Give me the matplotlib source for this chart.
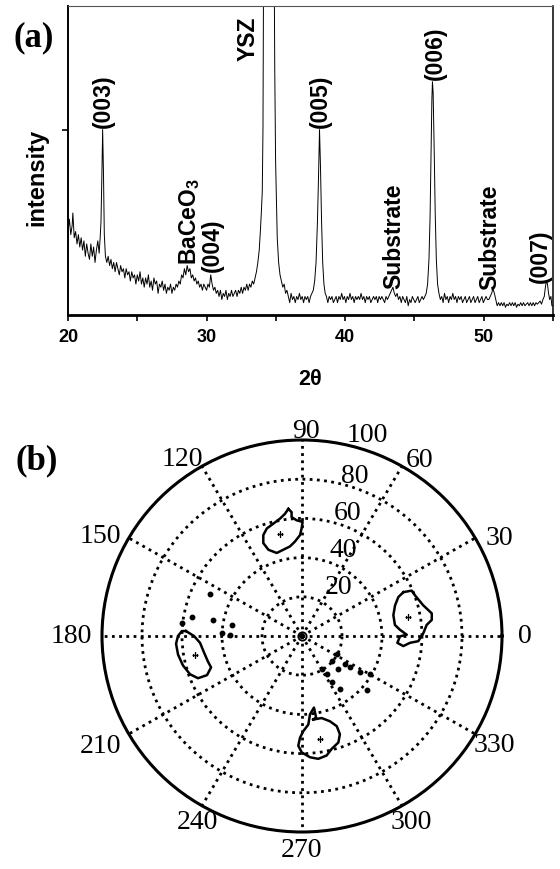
import numpy as np
import matplotlib
matplotlib.use("Agg")
import matplotlib.pyplot as plt

plt.rcParams['mathtext.fontset'] = 'custom'
plt.rcParams['mathtext.bf'] = 'Liberation Sans:bold'
plt.rcParams['mathtext.rm'] = 'Liberation Sans:bold'
plt.rcParams['mathtext.default'] = 'bf'

# ---------------- (a) XRD pattern data ----------------
two_theta = [
    20.0, 20.1, 20.2, 20.3, 20.35, 20.45, 20.55, 20.65, 20.75, 20.85, 20.95, 21.05, 21.15, 21.25,
    21.35, 21.45, 21.55, 21.65, 21.75, 21.85, 21.95, 22.05, 22.15, 22.25, 22.32,
    22.38, 22.44, 22.5, 22.56, 22.62, 22.7,
    22.8, 22.9, 23.0, 23.1, 23.2, 23.3, 23.4, 23.5, 23.6, 23.7, 23.8, 23.9, 24.0, 24.1, 24.2,
    24.3, 24.4, 24.5, 24.6, 24.7, 24.8, 24.9, 25.0, 25.1, 25.2, 25.3, 25.4, 25.5, 25.6, 25.7,
    25.8, 25.9, 26.0, 26.1, 26.2, 26.3, 26.4, 26.5, 26.6, 26.7, 26.8, 26.9, 27.0, 27.1, 27.2,
    27.3, 27.4, 27.5, 27.6, 27.7, 27.8, 27.9, 28.0, 28.1, 28.2, 28.3, 28.4, 28.5, 28.6, 28.7,
    28.8, 28.9, 29.0, 29.1, 29.2, 29.3, 29.4, 29.5, 29.6, 29.7, 29.8, 29.9, 30.0, 30.1, 30.2,
    30.3, 30.4, 30.5, 30.6, 30.7, 30.8, 30.9, 31.0, 31.1, 31.2, 31.3, 31.4, 31.5, 31.6, 31.7,
    31.8, 31.9, 32.0, 32.1, 32.2, 32.3, 32.4, 32.5, 32.6, 32.7, 32.8, 32.9, 33.0, 33.1, 33.2,
    33.3, 33.4,
    33.5, 33.6, 33.7, 33.8, 33.88, 33.95, 34.02, 34.07, 34.12, 34.2, 34.35, 34.5, 34.65, 34.78,
    34.86, 34.92, 34.98, 35.04, 35.1, 35.2, 35.3, 35.4, 35.5, 35.6, 35.7, 35.8, 35.9, 36.0,
    36.1, 36.2, 36.3, 36.4, 36.5, 36.6, 36.7, 36.8, 36.9, 37.0, 37.1, 37.2, 37.3, 37.4, 37.5,
    37.6, 37.7, 37.8, 37.9, 38.0, 38.08, 38.15, 38.22, 38.3, 38.38, 38.47, 38.56,
    38.65, 38.75, 38.85, 38.95, 39.05, 39.15, 39.25, 39.35, 39.45, 39.55, 39.65, 39.75, 39.85,
    39.95, 40.05, 40.15, 40.25, 40.35, 40.45, 40.55, 40.65, 40.75, 40.85, 40.95, 41.05, 41.15,
    41.25, 41.35, 41.45, 41.55, 41.65, 41.75, 41.85, 41.95, 42.05, 42.15, 42.25, 42.35, 42.45,
    42.55, 42.65, 42.75, 42.85, 42.95, 43.05, 43.15, 43.25, 43.35, 43.45, 43.55, 43.65, 43.75,
    43.85, 43.95, 44.05, 44.15, 44.25, 44.35, 44.45, 44.55, 44.65, 44.75, 44.85, 44.95, 45.05,
    45.15, 45.25, 45.35, 45.45, 45.55, 45.65, 45.75, 45.85,
    45.95, 46.05, 46.13, 46.2, 46.26, 46.3, 46.35, 46.42, 46.5, 46.58, 46.67, 46.77, 46.87,
    46.97, 47.07, 47.17, 47.27, 47.37, 47.47, 47.57, 47.67, 47.77, 47.87, 47.97, 48.07, 48.17,
    48.27, 48.37, 48.47, 48.57, 48.67, 48.77, 48.87, 48.97, 49.07, 49.17, 49.27, 49.37, 49.47,
    49.57, 49.67, 49.77, 49.87, 49.97, 50.07, 50.17, 50.27, 50.37, 50.47, 50.57, 50.67, 50.77,
    50.87, 50.97, 51.07, 51.17, 51.27, 51.37, 51.47, 51.57, 51.67, 51.77, 51.87, 51.97, 52.07,
    52.17, 52.27, 52.37, 52.47, 52.57, 52.67, 52.77, 52.87, 52.97, 53.07, 53.17, 53.27, 53.37,
    53.47, 53.57, 53.67, 53.77, 53.87, 53.97, 54.07, 54.17, 54.27, 54.37, 54.45, 54.52, 54.6,
    54.68, 54.76, 54.85, 54.92, 55.0,
]
intensity = [
    27, 31, 26, 29, 33, 25, 27, 23, 26, 22, 25, 21, 24, 19,
    23, 20, 18, 23, 19, 22, 17, 21, 24, 20, 25,
    30, 44, 60, 46, 26, 19,
    17, 19, 16, 18, 15, 17, 14, 17, 15, 13, 16, 14, 15, 12, 15,
    13, 14, 11, 14, 12, 13, 10, 13, 11, 14, 10, 12, 9, 12, 10,
    13, 9, 11, 8, 12, 10, 11, 7, 10, 9, 11, 8, 10, 7, 9,
    8, 10, 7, 9, 8, 10, 9, 11, 10, 13, 12, 15, 13, 16, 14,
    15, 12, 13, 11, 12, 10, 11, 9, 10, 8, 10, 9, 8, 10, 9,
    13, 10, 8, 9, 7, 8, 6, 8, 5, 7, 6, 8, 5, 7, 6,
    8, 6, 7, 8, 6, 8, 7, 9, 7, 9, 8, 10, 8, 10, 9,
    11, 10,
    12, 14, 17, 21, 27, 33, 40, 60, 120, 220, 300, 320, 300, 220,
    130, 80, 50, 38, 25, 17, 13, 11, 9, 10, 7, 8, 6, 4,
    7, 5, 6, 4, 6, 5, 7, 5, 6, 4, 6, 5, 6, 4, 6,
    7, 8, 11, 17, 30, 45, 60, 48, 30, 17, 10, 7,
    6, 4, 6, 5, 6, 4, 5, 6, 4, 6, 5, 7, 5,
    6, 4, 6, 5, 7, 5, 6, 4, 6, 5, 6, 5, 7,
    5, 6, 4, 6, 5, 6, 4, 5, 6, 5, 6, 4, 6,
    5, 6, 5, 4, 6, 5, 6, 7, 8, 9, 7, 6, 7,
    5, 6, 4, 6, 5, 4, 6, 3, 5, 4, 6, 5, 4,
    5, 6, 4, 5, 6, 5, 6, 7,
    10, 18, 32, 52, 70, 75.5, 72, 55, 33, 18, 10, 7, 5,
    6, 4, 7, 5, 6, 4, 6, 5, 7, 5, 6, 4, 6,
    5, 6, 4, 5, 6, 4, 5, 6, 4, 5, 6, 4, 5,
    6, 4, 5, 6, 4, 5, 6, 5, 5, 6, 7, 8.5, 7,
    5, 3, 4, 3, 4, 3, 4, 2.5, 3.5, 3, 4, 3, 4,
    3, 4, 2.5, 3.5, 3, 4, 3, 4, 3, 3.5, 4, 3, 4,
    3, 4, 3, 4, 3.5, 4, 4.5, 3.5, 5, 6, 9, 11, 10,
    7, 5, 6, 3, 3,
]

peak_labels = ['(003)', 'YSZ', r'BaCeO$_3$', '(004)', '(005)', 'Substrate', '(006)', 'Substrate', '(007)']
peak_label_x = [22.53, 32.99, 28.75, 30.4, 38.19, 43.53, 46.48, 50.45, 54.06]
peak_label_y = [61, 82.5, 16.5, 14.2, 61, 8.7, 76.5, 8.4, 10.7]

x_ticks = [20, 30, 40, 50]
x_minor = [25, 35, 45, 55]

# ---------------- (b) pole figure data ----------------
ring_values = [20, 40, 60, 80]
spoke_angles = list(range(0, 360, 30))
angle_labels = ['0', '30', '60', '90', '120', '150', '180', '210', '240', '270', '300', '330']
radial_labels = ['20', '40', '60', '80', '100']

# pole outlines: (angle in degrees, radius)
pole_r_theta = [23.8, 22.9, 20.1, 14.5, 10.1, 7.2, 5.2, 1.4, -2.6, -3.7, -5.8, -4.2, -0.2, 0.7, 3.7, 6.9, 13.1, 18.6, 22.4]
pole_r_rad = [55.4, 59.5, 60.2, 62.6, 65.9, 65.4, 62.6, 60.7, 58.2, 54.1, 50.9, 47.8, 49.0, 52.4, 49.1, 46.8, 46.9, 49.1, 52.1]

pole_t_theta = [96.0, 94.7, 94.9, 92.6, 89.7, 90.2, 91.1, 94.2, 97.5, 102.0, 106.6, 110.9, 112.2, 110.6, 107.8, 104.0, 100.4, 97.8]
pole_t_rad = [65.2, 63.4, 60.9, 59.1, 58.2, 54.9, 51.5, 48.3, 46.1, 45.0, 44.2, 47.1, 51.2, 55.0, 57.6, 59.1, 60.9, 62.9]

pole_l_theta = [177.5, 180.0, 183.9, 189.8, 195.5, 199.4, 202.8, 202.5, 199.2, 194.1, 188.7, 183.6, 180.0, 177.6]
pole_l_rad = [58.1, 54.0, 51.1, 49.7, 48.8, 48.2, 51.5, 56.3, 59.3, 61.4, 62.7, 63.1, 62.0, 60.1]

pole_b_theta = [277.5, 283.2, 287.8, 290.7, 290.7, 288.5, 284.4, 281.4, 277.4, 273.7, 269.9, 268.1, 268.9, 270.8, 274.0, 275.7, 279.3, 279.6]
pole_b_rad = [43.0, 43.0, 45.7, 49.2, 53.6, 57.3, 59.5, 62.2, 63.2, 62.0, 59.4, 56.0, 51.9, 48.5, 45.3, 40.2, 37.0, 42.1]

pole_centre_theta = [10.2, 190.1, 279.7, 102.0]
pole_centre_rad = [53.8, 54.3, 53.3, 53.0]

spot_theta = [331.7, 326.3, 317.1, 326.3, 319.6, 300.3, 302.5, 302.3, 305.3, 319.5, 327.5, 330.4,
              169.9, 169.6, 170.9, 177.9, 173.8, 155.0, 179.0]
spot_rad = [19.7, 25.9, 24.8, 28.8, 19.5, 19.5, 23.0, 27.8, 32.9, 42.6, 34.4, 39.1,
            56.0, 45.1, 35.6, 40.2, 60.5, 50.8, 36.0]

# ---------------- figure ----------------
W, H = 560, 870
fig = plt.figure(figsize=(W / 100, H / 100), dpi=100)

SANS = 'Liberation Sans'
SERIF = 'Liberation Serif'

ax = fig.add_axes([68 / W, 1 - 316 / H, 485 / W, 309 / H])
ax.plot(two_theta, intensity, color='black', lw=0.7)
ax.set_xlim(20, 55)
ax.set_ylim(0, 100)
ax.set_xticks(x_ticks)
ax.set_xticks(x_minor, minor=True)
ax.set_xticklabels([str(v) for v in x_ticks], fontfamily=SANS, fontweight='bold', fontsize=13)
ax.set_yticks([60])
ax.set_yticklabels([])
ax.tick_params(axis='both', which='both', direction='out', length=4, width=1.2, pad=5)
ax.spines['bottom'].set_linewidth(2.0)
ax.spines['left'].set_linewidth(1.4)
ax.spines['top'].set_linewidth(0.8)
ax.spines['top'].set_color('#555555')
ax.spines['right'].set_linewidth(1.1)
ax.set_xlabel('2θ', fontfamily=SANS, fontweight='bold', fontsize=15.5, labelpad=17)

for txt, xv, yv in zip(peak_labels, peak_label_x, peak_label_y):
    ax.text(xv, yv, txt, rotation=90, ha='center', va='bottom',
            fontfamily=SANS, fontweight='bold', fontsize=16.5)

fig.text(37 / W, 1 - 177 / H, 'intensity', rotation=90, ha='center', va='center',
         fontfamily=SANS, fontweight='bold', fontsize=17)
fig.text(34 / W, 1 - 38 / H, '(a)', ha='center', va='center',
         fontfamily=SERIF, fontweight='bold', fontsize=25)
fig.text(37 / W, 1 - 461 / H, '(b)', ha='center', va='center',
         fontfamily=SERIF, fontweight='bold', fontsize=25)

# ---------------- polar ----------------
pax = fig.add_axes([102 / W, 1 - 833 / H, 400 / W, 392 / H], projection='polar')
pax.set_aspect('auto')
pax.set_ylim(0, 100)
pax.set_rgrids(ring_values, labels=[''] * len(ring_values))
pax.set_thetagrids(spoke_angles, labels=[''] * len(spoke_angles))
pax.grid(True, color='black', linestyle=(0, (1, 1.6)), linewidth=2.0)
pax.spines['polar'].set_linewidth(2.2)
pax.tick_params(axis='both', length=0)

for th, rr in [(pole_r_theta, pole_r_rad), (pole_t_theta, pole_t_rad),
               (pole_l_theta, pole_l_rad), (pole_b_theta, pole_b_rad)]:
    t = np.deg2rad(np.append(th, th[0]))
    r = np.append(rr, rr[0])
    pax.plot(t, r, color='black', lw=1.8, solid_joinstyle='round')

pax.plot(np.deg2rad(pole_centre_theta), pole_centre_rad, linestyle='none', marker='+',
         color='black', ms=4, mew=1)
pax.plot(np.deg2rad(spot_theta), spot_rad, linestyle='none', marker='o', color='black', ms=3.2)
pax.plot([0], [0], linestyle='none', marker='o', mfc='none', mec='black', ms=6, mew=1.3)

# label placement (layout, not data)
ang_pos = [(0, 111.5), (27, 111), (57, 107.5), (89, 105), (123.5, 108.5), (153, 113),
           (180, 115.5), (209, 115), (241, 108), (270, 109), (300, 109.5), (330, 111)]
for lab, (a, rr) in zip(angle_labels, ang_pos):
    pax.text(np.deg2rad(a), rr, lab, ha='center', va='center', fontfamily=SERIF,
             fontsize=20, clip_on=False)
rad_pos = [(54, 31), (65, 48.5), (70, 67), (72, 86), (72.5, 108)]
for lab, (a, rr) in zip(radial_labels, rad_pos):
    pax.text(np.deg2rad(a), rr, lab, ha='center', va='center', fontfamily=SERIF,
             fontsize=20, clip_on=False)

fig.savefig('out.png', dpi=100)
